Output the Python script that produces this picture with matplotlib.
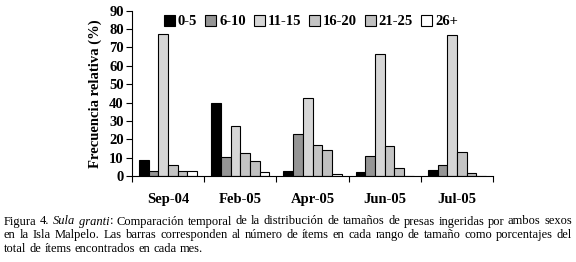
import matplotlib
matplotlib.use("Agg")
import matplotlib.pyplot as plt
from matplotlib.font_manager import FontProperties
import numpy as np

months = ["Sep-04", "Feb-05", "Apr-05", "Jun-05", "Jul-05"]
size_classes = ["0-5", "6-10", "11-15", "16-20", "21-25", "26+"]
v_0_5 = [8.5, 39.6, 2.5, 2.2, 3.3]
v_6_10 = [2.5, 10.2, 22.7, 10.9, 6.0]
v_11_15 = [77.5, 27.1, 42.4, 66.5, 76.9]
v_16_20 = [5.8, 12.4, 16.7, 16.4, 12.9]
v_21_25 = [2.5, 8.0, 14.0, 4.4, 1.5]
v_26p = [2.5, 2.0, 1.1, 0.0, 0.0]
series = [v_0_5, v_6_10, v_11_15, v_16_20, v_21_25, v_26p]
colors = ["#000000", "#959595", "#d6d6d6", "#c4c4c4", "#c0c0c0", "#ffffff"]

# caption tokens: (text, italic, space_after)
caption_l1 = [("Figura", False, True), ("4.", False, True), ("Sula", True, True),
              ("granti", True, False), (":", False, True)] + \
    [(w, False, True) for w in "Comparación temporal de la distribución de tamaños de presas ingeridas por ambos sexos".split()]
caption_l2 = "en la Isla Malpelo. Las barras corresponden al número de ítems en cada rango de tamaño como porcentajes del"
caption_l3 = "total de ítems encontrados en cada mes."

plt.rcParams['font.family'] = ['Liberation Serif', 'DejaVu Serif']

W, H = 576, 262
fig = plt.figure(figsize=(W / 100, H / 100), dpi=100)
ax = fig.add_axes([132 / W, 1 - 176 / H, (493 - 132) / W, (176 - 10.7) / H])

bw = 0.134
x = np.arange(len(months))
for i, (vals, c) in enumerate(zip(series, colors)):
    pos = x + (i - 2.5) * bw
    ax.bar(pos, vals, width=bw, color=c, edgecolor="black", linewidth=0.8,
           label=size_classes[i])

ax.set_xlim(-0.5, len(months) - 0.5)
ax.set_ylim(0, 90)
ax.set_yticks(np.arange(0, 91, 10))
ax.set_xticks(np.arange(-0.5, len(months), 1.0))
ax.set_xticklabels([])
ax.set_xticks(x, minor=True)
ax.set_xticklabels(months, minor=True, fontsize=10.5, fontweight="bold")
ax.tick_params(axis="x", which="minor", length=0, pad=12)
ax.tick_params(axis="x", which="major", length=4, width=0.8, direction="out")
ax.tick_params(axis="y", length=4, width=0.8, labelsize=10.5, pad=2)
for lab in ax.get_yticklabels():
    lab.set_fontweight("bold")
for s in ["top", "right"]:
    ax.spines[s].set_visible(False)
for s in ["left", "bottom"]:
    ax.spines[s].set_linewidth(0.8)
ax.set_ylabel("Frecuencia relativa (%)", fontsize=10.5, fontweight="bold", labelpad=5)

leg = ax.legend(ncol=6, loc="upper left", bbox_to_anchor=((164 - 132) / (493 - 132), 0.975),
                frameon=False, prop={"weight": "bold", "size": 10.5},
                handlelength=0.75, handleheight=0.75, handletextpad=0.2,
                columnspacing=0.55, borderaxespad=0.0, borderpad=0.0)

# caption: word-by-word placement, justified like the reference
left_px, right_px = 4.0, 572.0
fig.canvas.draw()
renderer = fig.canvas.get_renderer()


def raw_wd(s, fs, it=False):
    prop = FontProperties(family=['Liberation Serif'], size=fs,
                          style="italic" if it else "normal")
    w, h, d = renderer.get_text_width_height_descent(s, prop, ismath=False)
    return w


def wd(s, fs, it=False):
    # remove the constant per-string overshoot of the measurement
    over = 2 * raw_wd("n", fs, it) - raw_wd("nn", fs, it)
    return raw_wd(s, fs, it) - over


def natural(tokens, fs):
    sp = raw_wd("n n", fs) - raw_wd("nn", fs)
    tot = sum(wd(t, fs, it) for t, it, _ in tokens)
    tot += sp * sum(1 for t in tokens[:-1] if t[2])
    return tot


fs0 = 10.0
cap_fs = fs0 * (right_px - left_px) * 0.985 / natural(caption_l1, fs0)
space_w = raw_wd("n n", cap_fs) - raw_wd("nn", cap_fs)


def place(tokens, y_px, justify):
    widths = [wd(t, cap_fs, it) for t, it, _ in tokens]
    ngaps = sum(1 for t in tokens[:-1] if t[2])
    gap = (right_px - left_px - sum(widths)) / ngaps if (justify and ngaps) else space_w
    xp = left_px
    for (t, it, g), w in zip(tokens, widths):
        fig.text(xp / W, 1 - y_px / H, t, fontsize=cap_fs,
                 style="italic" if it else "normal", va="center", ha="left")
        xp += w + (gap if g else 0.0)


place(caption_l1, 221.5, True)
place([(w, False, True) for w in caption_l2.split()], 235.0, True)
place([(w, False, True) for w in caption_l3.split()], 248.5, False)

fig.savefig("out.png", dpi=100)
